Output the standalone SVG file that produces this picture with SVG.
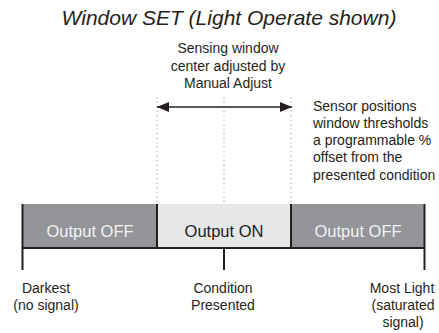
<svg xmlns="http://www.w3.org/2000/svg" width="439" height="333" viewBox="0 0 439 333">
<style>
text{font-family:"Liberation Sans",Arial,sans-serif;fill:#231f20}
.lbl{font-size:14px;text-anchor:middle}
.note{font-size:14px}
.bar{font-size:16.5px;text-anchor:middle}
.off{fill:#f2f2f2}
.dot{stroke:#a7a9ac;stroke-width:1;stroke-dasharray:1.5 3}
.edge{stroke:#231f20;stroke-width:2}
</style>
<defs>
<marker id="ah" viewBox="0 0 12 10" refX="12" refY="5" markerWidth="12" markerHeight="10" markerUnits="userSpaceOnUse" orient="auto-start-reverse">
<path d="M0,0 L12,5 L0,10 Z" fill="#231f20"/>
</marker>
</defs>
<text x="229" y="25" font-size="21" font-style="italic" text-anchor="middle">Window SET (Light Operate shown)</text>
<g id="window-note">
<text class="lbl" x="228" y="53">Sensing window</text>
<text class="lbl" x="228" y="71">center adjusted by</text>
<text class="lbl" x="228" y="88">Manual Adjust</text>
</g>
<g id="sensor-note">
<text class="note" x="313" y="111">Sensor positions</text>
<text class="note" x="313" y="128">window thresholds</text>
<text class="note" x="313" y="145">a programmable %</text>
<text class="note" x="313" y="162">offset from the</text>
<text class="note" x="313" y="180">presented condition</text>
</g>
<g id="bar-off-left">
<rect x="22" y="204" width="135" height="44" fill="#939598"/>
<text class="bar off" x="90" y="237">Output OFF</text>
</g>
<g id="bar-on">
<rect x="157" y="204" width="134" height="44" fill="#e6e7e8"/>
<text class="bar" x="224" y="237">Output ON</text>
</g>
<g id="bar-off-right">
<rect x="291" y="204" width="133.5" height="44" fill="#939598"/>
<text class="bar off" x="358" y="237">Output OFF</text>
</g>
<g id="label-dark">
<text class="lbl" x="46" y="293">Darkest</text>
<text class="lbl" x="46" y="310">(no signal)</text>
</g>
<g id="label-condition">
<text class="lbl" x="223" y="293">Condition</text>
<text class="lbl" x="223" y="310">Presented</text>
</g>
<g id="label-light">
<text class="lbl" x="402" y="293">Most Light</text>
<text class="lbl" x="403" y="310">(saturated</text>
<text class="lbl" x="403" y="327">signal)</text>
</g>
<g id="connectors">
<line class="dot" x1="157" y1="97" x2="157" y2="204"/>
<line class="dot" x1="224" y1="97" x2="224" y2="204"/>
<line class="dot" x1="291" y1="97" x2="291" y2="204"/>
<line x1="157" y1="107" x2="292" y2="107" stroke="#231f20" stroke-width="1.5" marker-start="url(#ah)" marker-end="url(#ah)"/>
<line class="edge" x1="22" y1="248" x2="424.5" y2="248" stroke-width="1.6"/>
<line class="edge" x1="22.5" y1="204" x2="22.5" y2="270"/>
<line class="edge" x1="157" y1="204" x2="157" y2="248"/>
<line class="edge" x1="291" y1="204" x2="291" y2="248"/>
<line class="edge" x1="424.5" y1="204" x2="424.5" y2="270"/>
<line class="edge" x1="224" y1="248" x2="224" y2="270"/>
</g>
</svg>
